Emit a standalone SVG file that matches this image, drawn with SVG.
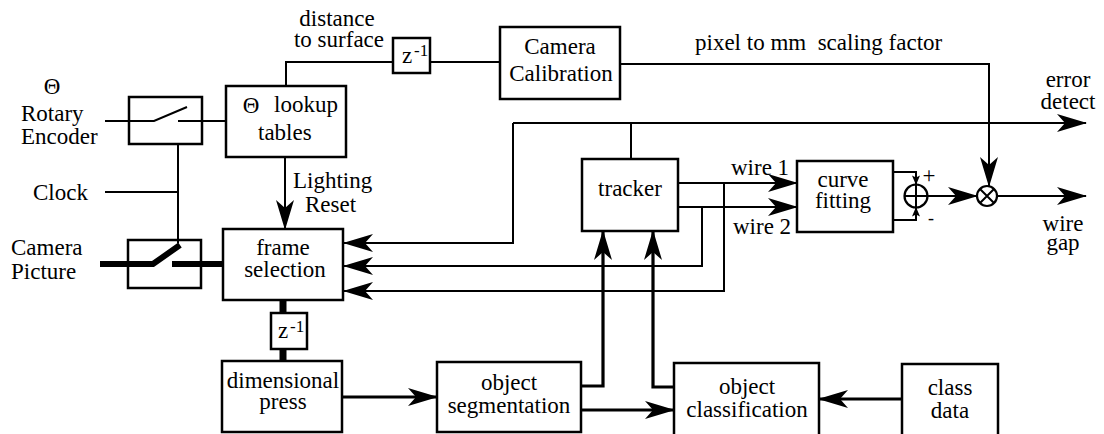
<svg xmlns="http://www.w3.org/2000/svg" width="1104" height="434" viewBox="0 0 1104 434" font-family="'Liberation Serif', 'Times New Roman', 'DejaVu Serif', serif">
<style>
text{font-family:"Liberation Serif","Times New Roman","DejaVu Serif",serif;font-size:23px;fill:#000}
.m{text-anchor:middle}
.sup{font-size:17px}
.box{fill:#fff;stroke:#000;stroke-width:2.5}
.ln{fill:none;stroke:#000;stroke-width:2}
.tk{fill:none;stroke:#000;stroke-width:3.2}
.fat{fill:none;stroke:#000;stroke-width:6}
.fat7{fill:none;stroke:#000;stroke-width:7}
</style>
<defs>
<marker id="arr" viewBox="-31 -10 32 20" refX="0" refY="0" markerWidth="32" markerHeight="20" markerUnits="userSpaceOnUse" orient="auto">
<path d="M1,0 L-29,-9 L-21,0 L-29,9 Z" fill="#000"/>
</marker>
<marker id="sarr" viewBox="-10 -5 11 10" refX="0" refY="0" markerWidth="11" markerHeight="10" markerUnits="userSpaceOnUse" orient="auto">
<path d="M0.5,0 L-9,-4 L-7,0 L-9,4 Z" fill="#000"/>
</marker>
</defs>
<rect width="1104" height="434" fill="#fff"/>

<g id="connectors">
<path class="ln" d="M105,121 H154 L187,107"/>
<path class="ln" d="M178,121 H226"/>
<path class="ln" d="M178,144 V243"/>
<path class="ln" d="M105,192 H178"/>
<path class="fat" d="M100,264 H153 L180,245"/>
<path class="fat" d="M172,264 H223"/>
<path class="ln" d="M286,86 V62 H393"/>
<path class="ln" d="M430,62 H500"/>
<path class="ln" d="M620,64 H989 V186" marker-end="url(#arr)"/>
<path class="ln" d="M513,123 H1086" marker-end="url(#arr)"/>
<path class="ln" d="M513,123 V243 H344" marker-end="url(#arr)"/>
<path class="ln" d="M631,159 V123"/>
<path class="ln" d="M678,183 H797" marker-end="url(#arr)"/>
<path class="ln" d="M678,207 H797" marker-end="url(#arr)"/>
<path class="ln" d="M724,183 V291 H344" marker-end="url(#arr)"/>
<path class="ln" d="M702,207 V266 H344" marker-end="url(#arr)"/>
<path class="ln" d="M285,157 V229" marker-end="url(#arr)"/>
<path class="fat7" d="M283,300 V313"/>
<path class="fat7" d="M283,349 V361"/>
<path class="tk" d="M342,397 H437" marker-end="url(#arr)"/>
<path class="tk" d="M581,386 H603 V231" marker-end="url(#arr)"/>
<path class="tk" d="M581,410 H674" marker-end="url(#arr)"/>
<path class="tk" d="M674,387 H653 V231" marker-end="url(#arr)"/>
<path class="tk" d="M902,399 H819" marker-end="url(#arr)"/>
<path class="ln" d="M893,172 H916 V184.5" marker-end="url(#sarr)"/>
<path class="ln" d="M893,220 H916 V207.5" marker-end="url(#sarr)"/>
<path class="ln" d="M928,196 H977" marker-end="url(#arr)"/>
<path class="ln" d="M997,196 H1086" marker-end="url(#arr)"/>
</g>

<g id="labels">
<text x="52" y="94" class="m">Θ</text>
<text x="21" y="121">Rotary</text>
<text x="21" y="144">Encoder</text>
<text x="33" y="200">Clock</text>
<text x="11" y="255">Camera</text>
<text x="11" y="279">Picture</text>
<text x="337" y="26" class="m">distance</text>
<text x="339" y="47" class="m">to surface</text>
<text x="695" y="50" xml:space="preserve">pixel to mm  scaling factor</text>
<text x="1068" y="87" class="m">error</text>
<text x="1068" y="109" class="m">detect</text>
<text x="1063" y="231" class="m">wire</text>
<text x="1063" y="250" class="m">gap</text>
<text x="293" y="188">Lighting</text>
<text x="305" y="212">Reset</text>
<text x="731" y="175">wire 1</text>
<text x="733" y="234">wire 2</text>
<text x="929" y="183" class="m">+</text>
<text x="931" y="224" class="m" style="font-size:18px">-</text>
</g>

<g id="switch-encoder">
<rect class="box" x="129" y="97" width="73" height="47" style="fill:none"/>
</g>
<g id="switch-camera">
<rect class="box" x="128" y="240" width="73" height="48" style="fill:none"/>
</g>
<g id="lookup-tables">
<rect class="box" x="226" y="86" width="120" height="71"/>
<text x="251" y="113" class="m">Θ</text>
<text x="274" y="112">lookup</text>
<text x="258" y="140">tables</text>
</g>
<g id="z-delay-top">
<rect class="box" x="393" y="38" width="37" height="35"/>
<text x="402" y="63">z</text>
<text x="414" y="56" class="sup">-1</text>
</g>
<g id="camera-calibration">
<rect class="box" x="500" y="27" width="120" height="72"/>
<text x="560" y="54" class="m">Camera</text>
<text x="561" y="81" class="m">Calibration</text>
</g>
<g id="tracker">
<rect class="box" x="582" y="159" width="96" height="72"/>
<text x="630" y="196" class="m">tracker</text>
</g>
<g id="curve-fitting">
<rect class="box" x="797" y="161" width="96" height="71"/>
<text x="843" y="187" class="m">curve</text>
<text x="843" y="208" class="m">fitting</text>
</g>
<g id="sum">
<circle cx="916" cy="196" r="11.5" fill="#fff" stroke="#000" stroke-width="2.2"/>
<path d="M904.5,196 H927.5 M916,184.5 V207.5" stroke="#000" stroke-width="2"/>
</g>
<g id="multiply">
<circle cx="987" cy="196" r="10" fill="#fff" stroke="#000" stroke-width="2.2"/>
<path d="M980,189 L994,203 M994,189 L980,203" stroke="#000" stroke-width="2"/>
</g>
<g id="frame-selection">
<rect class="box" x="223" y="229" width="120" height="71"/>
<text x="283" y="255" class="m">frame</text>
<text x="285" y="277" class="m">selection</text>
</g>
<g id="z-delay-bottom">
<rect class="box" x="271" y="313" width="36" height="36"/>
<text x="278" y="338">z</text>
<text x="290" y="332" class="sup">-1</text>
</g>
<g id="dimensional-press">
<rect class="box" x="222" y="361" width="120" height="71"/>
<text x="283" y="388" class="m">dimensional</text>
<text x="283" y="409" class="m">press</text>
</g>
<g id="object-segmentation">
<rect class="box" x="437" y="362" width="144" height="70"/>
<text x="509" y="390" class="m">object</text>
<text x="509" y="413" class="m">segmentation</text>
</g>
<g id="object-classification">
<rect class="box" x="674" y="363" width="145" height="74"/>
<text x="747" y="394" class="m">object</text>
<text x="747" y="417" class="m">classification</text>
</g>
<g id="class-data">
<rect class="box" x="902" y="364" width="96" height="73"/>
<text x="950" y="395" class="m">class</text>
<text x="950" y="418" class="m">data</text>
</g>
</svg>
